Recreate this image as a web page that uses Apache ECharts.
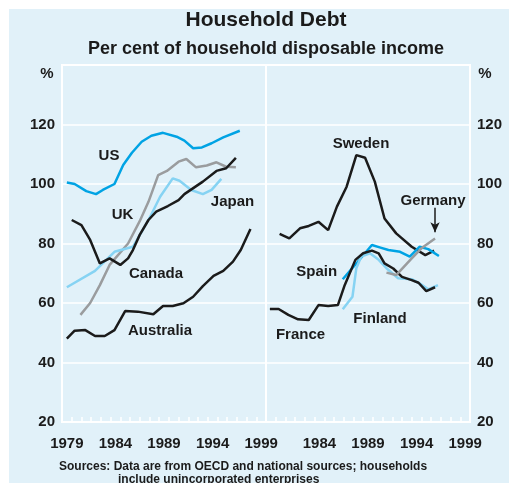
<!DOCTYPE html>
<html>
<head>
<meta charset="utf-8">
<title>Household Debt</title>
<script src="https://cdn.jsdelivr.net/npm/echarts@6/dist/echarts.min.js"></script>
<style>
  html, body { margin: 0; padding: 0; background: #fff; }
  #chart { width: 509px; height: 483px; }
</style>
</head>
<body>
<div id="chart"></div>
<script>
// values: [year, per cent]
var us = [[1979.0,100.5],[1979.8,100],[1981.0,97.6],[1982.0,96.6],[1982.7,98],[1983.9,100],[1984.8,106.4],[1985.7,110.5],[1986.7,114.2],[1987.7,116.2],[1988.9,117.2],[1990.3,115.9],[1991.1,114.6],[1992.0,112],[1992.9,112.3],[1993.9,113.7],[1995.1,115.7],[1996.8,117.9]];
var uk = [[1979.5,87.9],[1980.5,86.2],[1981.4,81.2],[1982.4,73.3],[1983.4,75],[1984.5,72.8],[1985.3,75],[1985.8,77.8],[1986.5,82.9],[1987.4,87.9],[1988.2,90.7],[1989.4,92.6],[1990.5,94.6],[1991.1,96.6],[1993.0,100.8],[1994.4,104.4],[1995.4,105.3],[1996.4,108.8]];
var japan = [[1980.4,56],[1981.4,60],[1982.4,66],[1983.4,72.8],[1985.3,80],[1986.5,87.5],[1987.4,94],[1988.4,103],[1989.3,104.4],[1990.5,107.5],[1991.3,108.4],[1992.3,105.6],[1993.4,106.2],[1994.4,107.3],[1995.4,105.8],[1996.4,105.6]];
var canada = [[1979.0,65.3],[1981.9,70.8],[1983.9,77.2],[1985.8,78.9],[1986.7,83.9],[1987.5,88.5],[1988.6,95.7],[1989.9,101.9],[1990.6,101.1],[1991.8,98],[1993.0,96.6],[1993.9,98],[1994.9,101.7]];
var australia = [[1979.0,48],[1979.8,50.7],[1980.9,50.9],[1981.9,48.9],[1982.9,48.9],[1983.9,50.9],[1985.0,57.3],[1986.3,57.1],[1987.9,56.2],[1988.9,59],[1989.9,59],[1991.0,59.9],[1992.0,62.1],[1993.0,65.7],[1994.1,69.1],[1995.1,70.8],[1996.1,73.9],[1996.9,77.8],[1997.9,84.9]];

var sweden = [[1979.9,83.2],[1980.9,81.7],[1982.0,85.1],[1982.9,85.9],[1983.9,87.3],[1984.9,84.5],[1985.8,92.4],[1986.8,99.1],[1987.8,109.7],[1988.7,108.8],[1989.7,100.8],[1990.7,88.4],[1991.9,83.4],[1993.5,78.9],[1994.9,76.1],[1995.8,77.6]];
var spain = [[1986.4,68],[1987.8,73.3],[1989.4,79.5],[1990.2,78.7],[1991.1,77.8],[1992.3,77.2],[1993.3,75.6],[1994.3,78.9],[1995.2,78.1],[1996.3,75.8]];
var france = [[1978.9,58],[1979.8,58],[1980.8,56],[1981.8,54.5],[1982.9,54.3],[1983.9,59.3],[1984.9,59],[1985.9,59.3],[1986.6,66],[1987.7,74.5],[1988.5,76.7],[1989.4,77.6],[1990.1,76.7],[1990.7,73.3],[1991.6,71.6],[1992.5,68.8],[1993.5,67.7],[1994.2,66.8],[1995.0,64],[1995.9,65.3]];
var finland = [[1986.4,57.9],[1987.4,62.1],[1987.8,71.7],[1988.3,75.6],[1989.2,76.7],[1990.1,74.5],[1990.9,71.7],[1992.1,68.3],[1993.5,68],[1994.3,66.6],[1995.2,64.6],[1996.2,66]];
var germany = [[1990.9,70.2],[1991.9,69.4],[1993.5,75],[1994.5,78.4],[1995.9,81.7]];

var leftYears = [1979, 1984, 1989, 1994, 1999];
var rightYears = [1984, 1989, 1994, 1999];
var tickYears = [];
for (var y = 1979; y < 1999; y++) tickYears.push(y + 0.5);

var BLACK = '#1b1b1b', BLUE = '#00a3e4', LIGHT = '#86d3f3', GREY = '#9a9c9e';
var BG = '#e1f1f9';
var FONT = '"Liberation Sans", Arial, sans-serif';

var chart = echarts.init(document.getElementById('chart'));

function xAxis(idx, labels) {
  return {
    type: 'value', gridIndex: idx, min: 1978.5, max: 1999.5,
    axisLine: { show: false },
    splitLine: { show: false },
    axisTick: { show: true, inside: true, length: 5, customValues: tickYears,
                lineStyle: { color: '#fff', width: 1.5 } },
    axisLabel: { customValues: labels, margin: 14, color: '#1b1b1b',
                 fontFamily: FONT, fontWeight: 'bold', fontSize: 15,
                 formatter: function (v) { return String(v); } }
  };
}
function yAxis(idx, pos) {
  return {
    type: 'value', gridIndex: idx, position: pos, min: 20, max: 140, interval: 20,
    axisLine: { show: false }, axisTick: { show: false },
    splitLine: { lineStyle: { color: '#fff', width: 1.5 } },
    axisLabel: { margin: 7, color: '#1b1b1b', fontFamily: FONT, fontWeight: 'bold', fontSize: 15,
                 formatter: function (v) { return v === 140 ? '' : v; } }
  };
}
function line(name, data, color, idx) {
  return { name: name, type: 'line', data: data, xAxisIndex: idx, yAxisIndex: idx,
           showSymbol: false, silent: true, lineStyle: { color: color, width: 2.5 } };
}
function txt(s, x, y, size) {
  return { type: 'text', x: x, y: y, style: { text: s, fill: '#1b1b1b', font: 'bold ' + (size || 15) + 'px ' + FONT,
           align: 'center', verticalAlign: 'middle' } };
}

var germanyLine = line('Germany', germany, GREY, 1);
germanyLine.markLine = {
  silent: true, symbol: ['none', 'arrow'], symbolSize: [7, 10],
  label: { show: false },
  lineStyle: { color: BLACK, width: 1.5, type: 'solid' },
  data: [[{ coord: [1995.9, 92] }, { coord: [1995.9, 83.8] }]]
};

chart.setOption({
  backgroundColor: '#fff',
  animation: false,
  grid: [
    { left: 62, right: 243, top: 65, bottom: 61, show: true, borderColor: '#fff', borderWidth: 2, backgroundColor: 'transparent' },
    { left: 266, right: 39, top: 65, bottom: 61, show: true, borderColor: '#fff', borderWidth: 2, backgroundColor: 'transparent' }
  ],
  xAxis: [xAxis(0, leftYears), xAxis(1, rightYears)],
  yAxis: [yAxis(0, 'left'), yAxis(1, 'right')],
  graphic: [
    { type: 'rect', z: -10, shape: { x: 9, y: 9, width: 500, height: 474 }, style: { fill: BG } },
    txt('Household Debt', 266, 20, 21),
    txt('Per cent of household disposable income', 266, 49, 18),
    txt('%', 47, 74), txt('%', 485, 74),
    txt('US', 109, 156), txt('UK', 122.5, 215), txt('Japan', 232.5, 202),
    txt('Canada', 156, 273.5), txt('Australia', 160, 330.5),
    txt('Sweden', 361, 143.5), txt('Germany', 433, 201), txt('Spain', 316.7, 272),
    txt('Finland', 380, 318.5), txt('France', 300.5, 335),
    { type: 'text', x: 59, y: 467, style: { text: 'Sources: Data are from OECD and national sources; households',
      fill: '#1b1b1b', font: 'bold 12px ' + FONT, align: 'left', verticalAlign: 'middle' } },
    { type: 'text', x: 118, y: 480, style: { text: 'include unincorporated enterprises',
      fill: '#1b1b1b', font: 'bold 12px ' + FONT, align: 'left', verticalAlign: 'middle' } }
  ],
  series: [
    line('US', us, BLUE, 0),
    line('Japan', japan, GREY, 0),
    line('Canada', canada, LIGHT, 0),
    line('UK', uk, BLACK, 0),
    line('Australia', australia, BLACK, 0),
    line('Sweden', sweden, BLACK, 1),
    line('Spain', spain, BLUE, 1),
    line('Finland', finland, LIGHT, 1),
    line('France', france, BLACK, 1),
    germanyLine
  ]
});
</script>
</body>
</html>
